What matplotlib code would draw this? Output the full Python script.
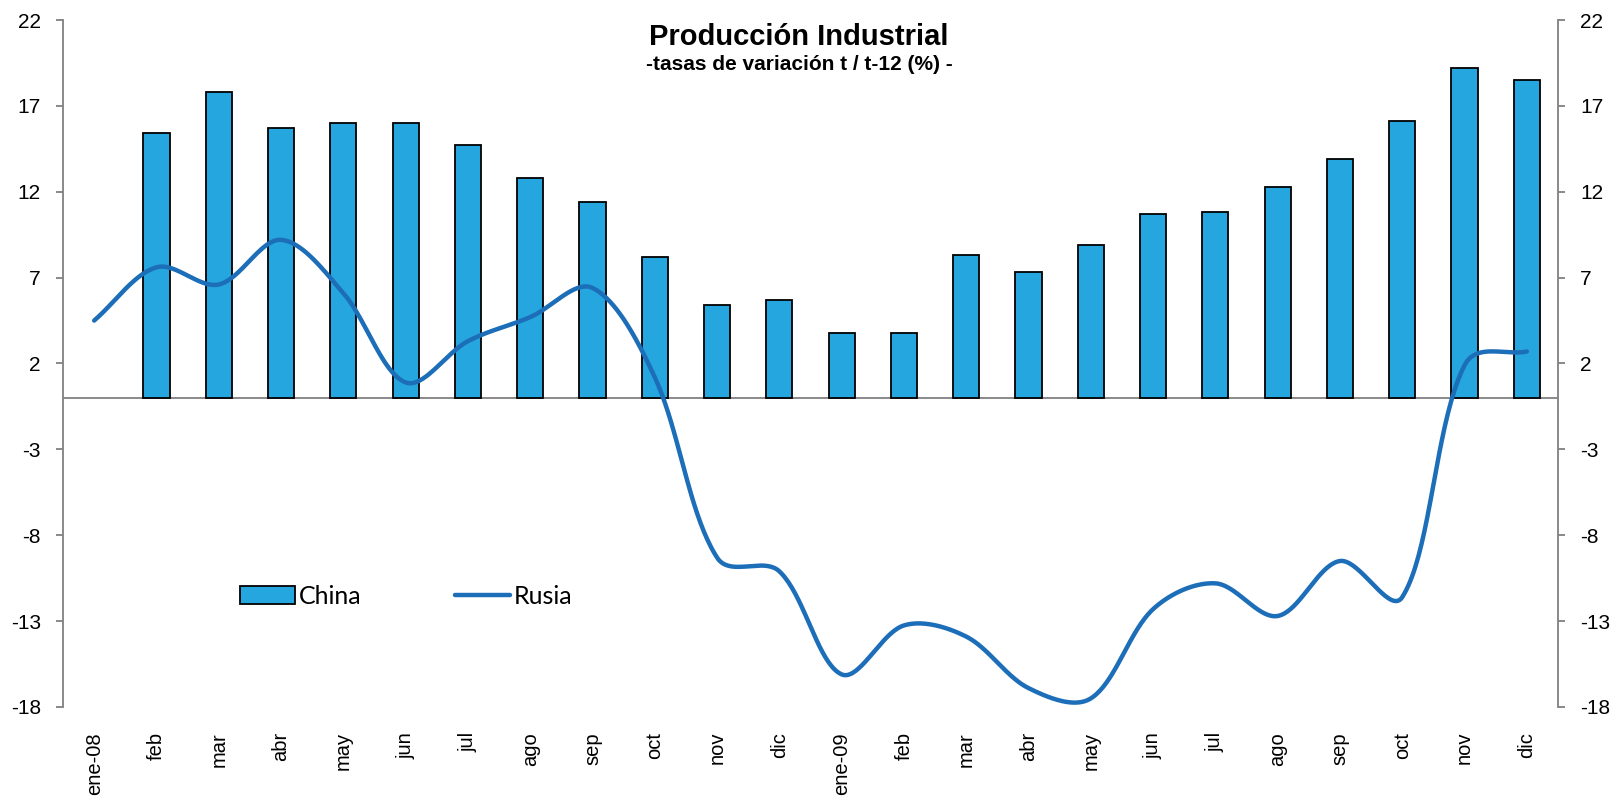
import numpy as np
import matplotlib
matplotlib.use("Agg")
import matplotlib.pyplot as plt
from matplotlib.patches import Patch
from matplotlib.lines import Line2D

categories = ["ene-08", "feb", "mar", "abr", "may", "jun", "jul", "ago", "sep", "oct", "nov", "dic",
              "ene-09", "feb", "mar", "abr", "may", "jun", "jul", "ago", "sep", "oct", "nov", "dic"]
china = [np.nan, 15.4, 17.8, 15.7, 16.0, 16.0, 14.7, 12.8, 11.4, 8.2, 5.4, 5.7,
         3.8, 3.8, 8.3, 7.3, 8.9, 10.7, 10.8, 12.3, 13.9, 16.1, 19.2, 18.5]
rusia = [4.5, 7.6, 6.6, 9.2, 6.1, 0.9, 3.3, 4.7, 6.4, 1.2, -9.3, -10.1,
         -16.1, -13.25, -13.9, -16.9, -17.5, -12.3, -10.8, -12.7, -9.5, -11.6, 1.9, 2.7]
yticks = [22, 17, 12, 7, 2, -3, -8, -13, -18]

BAR = "#26A6DF"
LINE = "#1D6EB8"
GRAY = "#808080"

plt.rcParams['font.family'] = ['Liberation Sans', 'DejaVu Sans']

fig = plt.figure(figsize=(16.2, 7.98), dpi=100)
ax = fig.add_axes([63/1620, 91/798, (1558-63)/1620, (707-20)/798])

x = np.arange(len(categories))
ax.bar(x, china, width=0.42, color=BAR, edgecolor="black", linewidth=1.3, zorder=2)

# Excel-style smoothed line: Bezier through the data points, tangents partly scaled by chord lengths
def smooth(xs, ys, sx=62.3, sy=17.18, n=40):
    P = np.column_stack([np.asarray(xs, float) * sx, np.asarray(ys, float) * sy])
    m = len(P)
    d = np.linalg.norm(np.diff(P, axis=0), axis=1)
    out = []
    for i in range(m - 1):
        p1, p2 = P[i], P[i + 1]
        if i > 0:
            w = 0.75 * d[i] / (d[i - 1] + d[i]) + 0.125
            c1 = p1 + (P[i + 1] - P[i - 1]) * w / 3.0
        else:
            c1 = p1 + (p2 - p1) / 3.0
        if i + 2 < m:
            w = 0.75 * d[i] / (d[i] + d[i + 1]) + 0.125
            c2 = p2 - (P[i + 2] - P[i]) * w / 3.0
        else:
            c2 = p2 - (p2 - p1) / 3.0
        t = np.linspace(0, 1, n, endpoint=(i == m - 2))[:, None]
        out.append((1-t)**3*p1 + 3*(1-t)**2*t*c1 + 3*(1-t)*t**2*c2 + t**3*p2)
    out = np.vstack(out)
    return out[:, 0] / sx, out[:, 1] / sy

lx, ly = smooth(x, rusia)
ax.plot(lx, ly, color=LINE, linewidth=3.2, solid_capstyle="round", zorder=3)

ax.set_xlim(-0.5, len(categories) - 0.5)
ax.set_ylim(-18, 22)
ax.axhline(0, color=GRAY, linewidth=1.3, zorder=1)

for s in ["top", "bottom"]:
    ax.spines[s].set_visible(False)
for s in ["left", "right"]:
    ax.spines[s].set_color(GRAY)
    ax.spines[s].set_linewidth(1.3)

ax.set_yticks(yticks)
ax.set_yticklabels([str(v) for v in yticks])
ax.tick_params(axis="y", which="both", left=True, right=True, labelleft=True, labelright=True,
               direction="out", length=5, width=1.3, color=GRAY, labelsize=15, pad=11)
ax.set_xticks(x)
ax.set_xticklabels(categories, rotation=90, va="top", ha="center")
ax.tick_params(axis="x", length=0, labelsize=14.5, pad=18)

fig.text(799/1620, 1 - 37/798, "Producción Industrial", ha="center", va="center",
         fontsize=21, fontweight="bold")
fig.text(799/1620, 1 - 65/798, "-tasas de variación t / t-12 (%) -", ha="center", va="center",
         fontsize=15, fontweight="bold")

handles = [Patch(facecolor=BAR, edgecolor="black", linewidth=1.3),
           Line2D([0], [0], color=LINE, linewidth=3.2, solid_capstyle="round")]
leg = ax.legend(handles, ["China", "Rusia"], ncol=2, frameon=False,
                prop={"family": ["Lato", "DejaVu Sans"], "size": 18},
                handlelength=2.2, handleheight=0.7, handletextpad=0.15, columnspacing=3.75,
                loc="center left", bbox_to_anchor=((240-63)/1495, (707-596)/687),
                borderaxespad=0, borderpad=0)

fig.savefig("out.png", dpi=100)
